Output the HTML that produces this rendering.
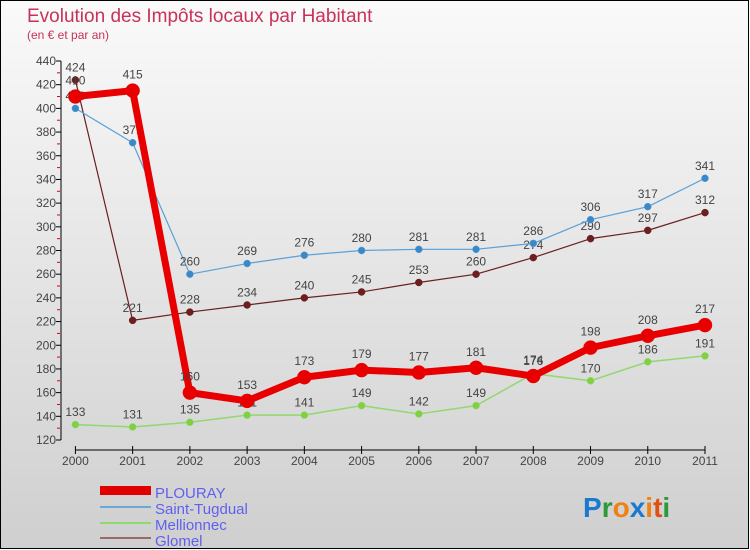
<!DOCTYPE html>
<html><head><meta charset="utf-8"><style>
body{margin:0;width:750px;height:550px;overflow:hidden;font-family:"Liberation Sans",sans-serif}
svg{display:block}
</style></head><body>
<svg width="750" height="550" xmlns="http://www.w3.org/2000/svg">
<defs><linearGradient id="bg" x1="0" y1="0" x2="0" y2="1"><stop offset="0" stop-color="#fafafa"/><stop offset="1" stop-color="#cfcfcf"/></linearGradient></defs>
<rect x="0.5" y="0.5" width="748" height="548" fill="url(#bg)" stroke="#000"/>
<text x="27" y="22" font-size="19" fill="#c8325a">Evolution des Impôts locaux par Habitant</text>
<text x="27" y="39" font-size="12" fill="#c8325a">(en € et par an)</text>
<g id="axes"></g>
<g id="series"></g>
<g id="legend">
<rect x="100" y="486" width="51" height="9" fill="#e00000"/>
<text x="155" y="498" font-size="15" fill="#6060f0">PLOURAY</text>
<rect x="100" y="506" width="51" height="2" fill="#6aa8d8"/>
<text x="155" y="514" font-size="15" fill="#6060f0">Saint-Tugdual</text>
<rect x="100" y="522" width="51" height="2" fill="#90d870"/>
<text x="155" y="530" font-size="15" fill="#6060f0">Mellionnec</text>
<rect x="100" y="537" width="51" height="2" fill="#9a6a6a"/>
<text x="155" y="546" font-size="15" fill="#6060f0">Glomel</text>
</g>
<text x="583" y="517" font-size="28" font-weight="bold"><tspan fill="#1a7ad0">P</tspan><tspan fill="#2a9a3a">r</tspan><tspan fill="#f08010">o</tspan><tspan fill="#1a7ad0">x</tspan><tspan fill="#f08010">i</tspan><tspan fill="#e05010">t</tspan><tspan fill="#2a9a3a">i</tspan></text>
</svg>
<script>
const years=[2000,2001,2002,2003,2004,2005,2006,2007,2008,2009,2010,2011];
const plouray=[410,415,160,153,173,179,177,181,174,198,208,217];
const saintTugdual=[400,371,260,269,276,280,281,281,286,306,317,341];
const mellionnec=[133,131,135,141,141,149,142,149,176,170,186,191];
const glomel=[424,221,228,234,240,245,253,260,274,290,297,312];
const yTicks=[120,140,160,180,200,220,240,260,280,300,320,340,360,380,400,420,440];
const NS="http://www.w3.org/2000/svg";
const X=i=>75.4+i*(705-75.4)/11;
const Y=v=>61+(440-v)*(379/320);
function mk(t,a,p){const e=document.createElementNS(NS,t);for(const k in a)e.setAttribute(k,a[k]);p.appendChild(e);return e;}
const ax=document.getElementById('axes');
let l=mk('line',{x1:61,y1:Y(440),x2:61,y2:Y(120),stroke:'#000'},ax);


for(let v=120;v<=440;v+=10){
 const major=yTicks.includes(v);
 mk('line',{x1:major?56:57,y1:Y(v),x2:major?61:60,y2:Y(v),stroke:major?'#000':'#e00000'},ax);
 if(major){const t=mk('text',{x:56,y:Y(v)+4,'font-size':12,fill:'#444','text-anchor':'end'},ax);t.textContent=v;
 
 }
}
l=mk('line',{x1:X(0),y1:450,x2:X(11),y2:450,stroke:'#000'},ax);


years.forEach((y,i)=>{mk('line',{x1:X(i),y1:446,x2:X(i),y2:454,stroke:'#000'},ax);
 const t=mk('text',{x:X(i),y:465,'font-size':12,fill:'#444','text-anchor':'middle'},ax);t.textContent=y;
 
 });
const sg=document.getElementById('series');
function series(name,data,color,w,r,dot){
 const g=mk('g',{},sg);
 
 
 const p=mk('polyline',{points:data.map((v,i)=>X(i)+','+Y(v)).join(' '),fill:'none',stroke:color,'stroke-width':w,'stroke-linejoin':'round'},g);
 
 
 data.forEach((v,i)=>{const c=mk('circle',{cx:X(i),cy:Y(v),r:r,fill:dot,stroke:color,'stroke-width':0.5},g);
 
 
 const t=mk('text',{x:X(i),y:Y(v)-r-5,'font-size':12,fill:'#444','text-anchor':'middle'},g);t.textContent=v;
 
 });
}
series('mellionnec',mellionnec,'#90d870',1.5,3.5,'#80d040');
series('glomel',glomel,'#6b1f1f',1.2,3.5,'#6b1f1f');
series('saint-tugdual',saintTugdual,'#5aa0d8',1.2,3.5,'#3a88c8');
series('plouray',plouray,'#e80000',7,7,'#e80000');
</script>
</body></html>
